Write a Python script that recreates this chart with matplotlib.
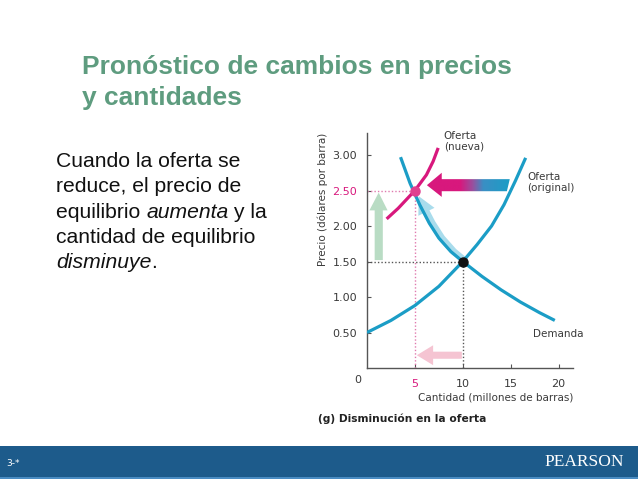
import numpy as np
import matplotlib
matplotlib.use("Agg")
import matplotlib.pyplot as plt
from matplotlib.colors import LinearSegmentedColormap
from matplotlib.patches import Polygon, Rectangle

# --- data ---
supply_q = [0, 2.5, 5, 7.5, 10, 11.5, 13, 14.3, 15.5, 16.56]
supply_p = [0.5, 0.67, 0.88, 1.15, 1.5, 1.74, 2.0, 2.3, 2.64, 2.96]
demand_q = [3.5, 4.5, 5.5, 6.5, 7.5, 8.75, 10, 12, 14, 16, 18, 19.6]
demand_p = [2.97, 2.6, 2.3, 2.04, 1.83, 1.64, 1.5, 1.29, 1.1, 0.93, 0.78, 0.67]
new_supply_q = [2.05, 3.26, 5.0, 6.2, 6.9, 7.43]
new_supply_p = [2.10, 2.25, 2.5, 2.72, 2.91, 3.10]
old_eq = (10, 1.5)
new_eq = (5, 2.5)
y_ticks = [0.5, 1.0, 1.5, 2.0, 2.5, 3.0]
y_labels = ["0.50", "1.00", "1.50", "2.00", "2.50", "3.00"]
x_ticks = [5, 10, 15, 20]
x_labels = ["5", "10", "15", "20"]

W, H = 638, 479
blue = "#1b9dc6"
magenta = "#d8187d"
grey_txt = "#3a3a3a"


def px(x, y):
    return x / W, 1 - y / H


fig = plt.figure(figsize=(W / 100, H / 100), dpi=100)
fig.patch.set_facecolor("white")

# --- slide title and text ---
green = "#5e9c7f"
fig.text(*px(82, 74), "Pronóstico de cambios en precios", color=green,
         fontsize=19, fontweight="bold", family="Liberation Sans", va="baseline")
fig.text(*px(82, 105), "y cantidades", color=green,
         fontsize=19, fontweight="bold", family="Liberation Sans", va="baseline")

renderer = fig.canvas.get_renderer()
body = [
    [("Cuando la oferta se", "normal")],
    [("reduce, el precio de", "normal")],
    [("equilibrio ", "normal"), ("aumenta", "italic"), (" y la", "normal")],
    [("cantidad de equilibrio", "normal")],
    [("disminuye", "italic"), (".", "normal")],
]
for i, parts in enumerate(body):
    x0 = 56
    yb = 167 + i * 25.3
    for s, style in parts:
        t = fig.text(*px(x0, yb), s, fontsize=15.2, family="Liberation Sans",
                     style=style, color="#111111", va="baseline")
        bb = t.get_window_extent(renderer)
        x0 += bb.width

# --- chart ---
ax = fig.add_axes([367 / W, 1 - 368 / H, 206 / W, 235 / H])
ax.set_xlim(0, 21.5)
ax.set_ylim(0, 3.31)
for s in ["top", "right"]:
    ax.spines[s].set_visible(False)
for s in ["left", "bottom"]:
    ax.spines[s].set_color("#555555")
    ax.spines[s].set_linewidth(1.0)

ax.set_yticks(y_ticks)
ax.set_yticklabels(y_labels)
ax.set_xticks(x_ticks)
ax.set_xticklabels(x_labels)
ax.tick_params(direction="in", length=3, color="#555555", labelsize=8,
               labelcolor=grey_txt)
ax.tick_params(axis="y", pad=7)
ax.tick_params(axis="x", pad=8)
ax.get_yticklabels()[4].set_color(magenta)
ax.get_xticklabels()[0].set_color(magenta)
ax.text(-1.0, -0.17, "0", fontsize=8, color=grey_txt, ha="center", va="center")

# guide lines
ax.plot([0, old_eq[0]], [old_eq[1]] * 2, ls=(0, (1, 1.5)), color="#555555", lw=1)
ax.plot([old_eq[0]] * 2, [0, old_eq[1]], ls=(0, (1, 1.5)), color="#555555", lw=1)
ax.plot([0, new_eq[0]], [new_eq[1]] * 2, ls=(0, (1, 1.5)), color="#e07aae", lw=1)
ax.plot([new_eq[0]] * 2, [0, new_eq[1]], ls=(0, (1, 1.5)), color="#e07aae", lw=1)

# green up arrow
ax.add_patch(Polygon([(0.8, 1.52), (1.65, 1.52), (1.65, 2.22), (2.15, 2.22),
                      (1.22, 2.47), (0.25, 2.22), (0.8, 2.22)],
                     closed=True, fc="#b9dcc4", ec="none", zorder=2))

# pink left arrow at bottom
ax.add_patch(Polygon([(9.9, 0.13), (6.9, 0.13), (6.9, 0.04), (5.2, 0.18),
                      (6.9, 0.32), (6.9, 0.23), (9.9, 0.23)],
                     closed=True, fc="#f5c4d2", ec="none", zorder=2))

# light blue arrow along demand (shaft hugs the right side of the curve)
shaft_q = [q + 0.3 for q in demand_q[2:7]]
shaft_p = demand_p[2:7]
ax.plot(shaft_q, shaft_p, color="#a9dcec", lw=5, zorder=2, solid_capstyle="butt",
        solid_joinstyle="round")
to_pix = ax.transData.transform
to_dat = ax.transData.inverted().transform
base = to_pix((6.2, 2.2))
tip = to_pix((5.4, 2.42))
d = (tip - base) / np.hypot(*(tip - base))
perp = np.array([d[1], -d[0]])
head = [to_dat(tip), to_dat(base + perp * 9), to_dat(base - perp * 9)]
ax.add_patch(Polygon(head, closed=True, fc="#a9dcec", ec="none", zorder=2))

# curves
line_kw = dict(lw=2.3, zorder=3, solid_capstyle="butt", solid_joinstyle="round")
ax.plot(supply_q, supply_p, color=blue, **line_kw)
ax.plot(demand_q, demand_p, color=blue, **line_kw)
ax.plot(new_supply_q, new_supply_p, color=magenta, **line_kw)

# gradient arrow (supply shift)
shape = Polygon([(14.6, 2.49), (7.8, 2.49), (7.8, 2.41), (6.25, 2.575),
                 (7.8, 2.75), (7.8, 2.66), (14.9, 2.66)],
                closed=True, fc="none", ec="none")
ax.add_patch(shape)
cmap = LinearSegmentedColormap.from_list(
    "shift", [(0, magenta), (0.4, magenta), (0.55, "#9a4f9e"), (0.68, "#3a8fc4"),
              (1, blue)])
grad = np.linspace(0, 1, 256).reshape(1, -1)
im = ax.imshow(grad, extent=[6.25, 14.9, 2.4, 2.76], cmap=cmap, aspect="auto",
               zorder=4)
im.set_clip_path(shape)
ax.set_xlim(0, 21.5)
ax.set_ylim(0, 3.31)

# equilibrium points
ax.plot(*old_eq, "o", color="#111111", ms=6.5, zorder=5)
ax.plot(*new_eq, "o", color="#e0408f", ms=6.5, zorder=5)

# curve labels
lab = dict(fontsize=7.5, color=grey_txt, va="top")
ax.text(8.0, 3.34, "Oferta\n(nueva)", linespacing=1.1, **lab)
ax.text(16.7, 2.76, "Oferta\n(original)", linespacing=1.1, **lab)
ax.text(17.3, 0.55, "Demanda", **lab)
for t in ax.texts:
    t.set_clip_on(False)

fig.text(*px(573, 397), "Cantidad (millones de barras)", fontsize=7.5,
         color=grey_txt, ha="right", va="center")
fig.text(*px(323, 199), "Precio (dólares por barra)", fontsize=7.5,
         color=grey_txt, ha="center", va="center", rotation=90)
fig.text(*px(318, 419), "(g) Disminución en la oferta", fontsize=7.7,
         fontweight="bold", color="#222222", ha="left", va="center")

# footer band
fig.patches.append(Rectangle(px(0, 479), 1, 33 / H, transform=fig.transFigure,
                             fc="#1d5b8b", ec="none", zorder=0))
fig.patches.append(Rectangle(px(0, 479), 1, 2 / H, transform=fig.transFigure,
                             fc="#4a8cc2", ec="none", zorder=1))
fig.text(*px(6, 463), "3-*", fontsize=6.5, color="white", va="center")
fig.text(*px(624, 462), "PEARSON", fontsize=12.5, color="white",
         family="Liberation Serif", ha="right", va="center")

fig.savefig("out.png", dpi=100)
